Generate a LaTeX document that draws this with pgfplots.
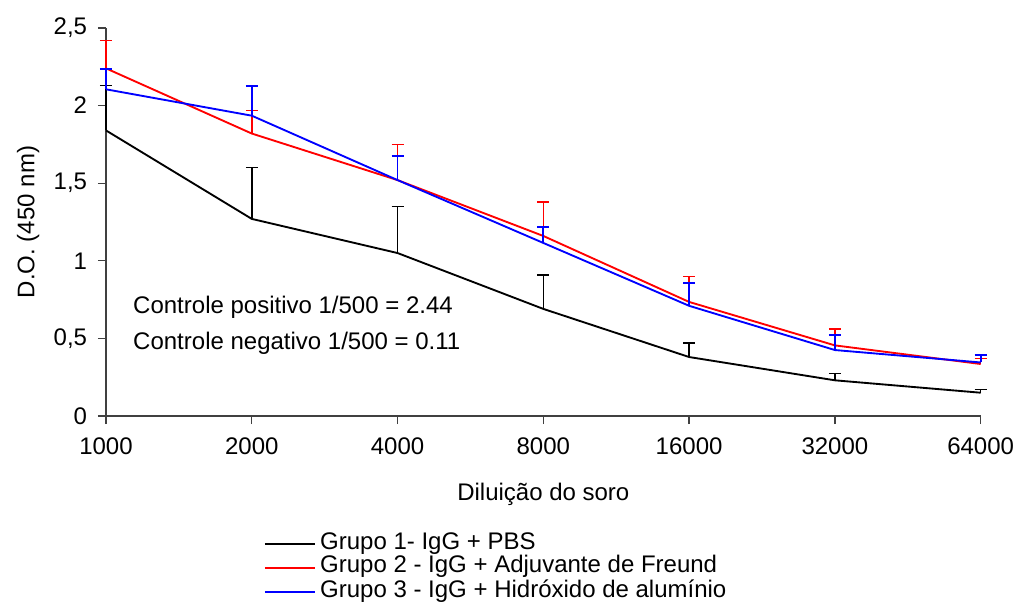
\documentclass[border=0pt]{standalone}
\usepackage{pgfplots}
\pgfplotsset{compat=1.18}
\usepackage{pgfplotstable}
\usepackage{fontspec}
\setmainfont{Liberation Sans}

% x = dilution index (1000 ... 64000), y = D.O., e = upper error
\pgfplotstableread{
x y e
0 1.84 0.29
1 1.27 0.33
2 1.05 0.30
3 0.69 0.22
4 0.38 0.09
5 0.23 0.045
6 0.15 0.02
}\grupoa
\pgfplotstableread{
x y e
0 2.24 0.18
1 1.82 0.15
2 1.52 0.23
3 1.16 0.22
4 0.735 0.165
5 0.455 0.105
6 0.335 0.035
}\grupob
\pgfplotstableread{
x y e
0 2.105 0.13
1 1.935 0.19
2 1.52 0.155
3 1.115 0.105
4 0.71 0.145
5 0.425 0.095
6 0.345 0.048
}\grupoc

\begin{document}
\fontsize{18}{21}\selectfont
\begin{tikzpicture}
\useasboundingbox (-79.5pt,-140.25pt) rectangle (686.25pt,312pt);
\begin{axis}[
  scale only axis,
  width=656pt, height=291pt,
  xmin=0, xmax=6, ymin=0, ymax=2.5,
  axis lines=left,
  axis line style={-, black!75, line width=1pt},
  tick style={black!75, line width=1pt},
  tick align=outside,
  major tick length=6pt,
  xtick={0,...,6},
  xticklabels={1000,2000,4000,8000,16000,32000,64000},
  ytick={0,0.5,1,1.5,2,2.5},
  yticklabels={0,{0,5},1,{1,5},2,{2,5}},
  xticklabel style={yshift=-4pt},
  yticklabel style={xshift=-2pt},
  xlabel={Diluição do soro},
  ylabel={D.O. (450 nm)},
  xlabel style={at={(axis description cs:0.5,-0.201)}, anchor=center},
  ylabel style={at={(axis description cs:-0.089,0.5)}, anchor=center},
  clip=false,
]
\addplot[black, line width=1.4pt, mark=none,
  error bars/.cd, y dir=plus, y explicit,
  error bar style={black, line width=1.1pt},
  error mark options={black, rotate=90, mark size=4.5pt, line width=1.1pt}]
  table[x=x, y=y, y error=e] {\grupoa};
\addplot[red, line width=1.4pt, mark=none,
  error bars/.cd, y dir=plus, y explicit,
  error bar style={red, line width=1.1pt},
  error mark options={red, rotate=90, mark size=4.5pt, line width=1.1pt}]
  table[x=x, y=y, y error=e] {\grupob};
\addplot[blue, line width=1.4pt, mark=none,
  error bars/.cd, y dir=plus, y explicit,
  error bar style={blue, line width=1.4pt},
  error mark options={blue, rotate=90, mark size=4.5pt, line width=1.4pt}]
  table[x=x, y=y, y error=e] {\grupoc};
\node[anchor=west, inner sep=0pt] at (axis cs:0.185,0.70) {Controle positivo 1/500 = 2.44};
\node[anchor=west, inner sep=0pt] at (axis cs:0.185,0.47) {Controle negativo 1/500 = 0.11};
% legend below the plot
\draw[black, line width=1.2pt] (axis description cs:0.1817,-0.3299) -- (axis description cs:0.2389,-0.3299);
\node[anchor=base west, inner sep=0pt] at (axis description cs:0.2446,-0.3428) {Grupo 1- IgG + PBS};
\draw[red, line width=1.2pt] (axis description cs:0.1817,-0.3918) -- (axis description cs:0.2389,-0.3918);
\node[anchor=base west, inner sep=0pt] at (axis description cs:0.2446,-0.4046) {Grupo 2 - IgG + Adjuvante de Freund};
\draw[blue, line width=1.2pt] (axis description cs:0.1817,-0.4536) -- (axis description cs:0.2389,-0.4536);
\node[anchor=base west, inner sep=0pt] at (axis description cs:0.2446,-0.4665) {Grupo 3 - IgG + Hidróxido de alumínio};
\end{axis}
\end{tikzpicture}
\end{document}
